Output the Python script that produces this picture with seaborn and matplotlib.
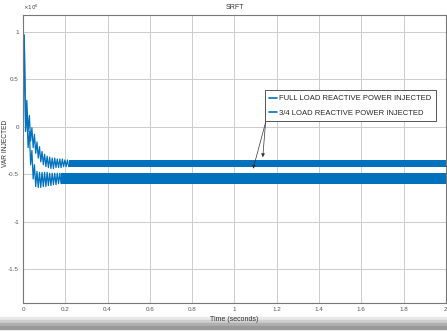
import numpy as np
import pandas as pd
import matplotlib
matplotlib.use("Agg")
import matplotlib.pyplot as plt
import seaborn as sns
from matplotlib.patches import Rectangle

# transient part (values in units of 1e6 VAR)
t_full = [0.0, 0.006, 0.012, 0.018, 0.024, 0.030, 0.036, 0.042, 0.048, 0.054,
          0.060, 0.066, 0.072, 0.078, 0.084, 0.090, 0.096, 0.102, 0.108, 0.114,
          0.120, 0.126, 0.132, 0.138, 0.144, 0.150, 0.156, 0.162, 0.168, 0.174,
          0.180, 0.186, 0.192, 0.198, 0.204, 0.210, 0.216]
v_full = [0.0, 0.97, 0.05, 0.28, -0.05, 0.12, -0.15, -0.01, -0.22, -0.08,
          -0.28, -0.16, -0.33, -0.21, -0.37, -0.26, -0.40, -0.29, -0.42, -0.31,
          -0.43, -0.32, -0.44, -0.33, -0.44, -0.33, -0.43, -0.34, -0.43, -0.34,
          -0.43, -0.34, -0.42, -0.35, -0.42, -0.35, -0.42]

t_34 = [0.0, 0.006, 0.012, 0.018, 0.024, 0.030, 0.036, 0.042, 0.048, 0.054,
        0.060, 0.066, 0.072, 0.078, 0.084, 0.090, 0.096, 0.102, 0.108, 0.114,
        0.120, 0.126, 0.132, 0.138, 0.144, 0.150, 0.156, 0.162, 0.168, 0.174, 0.180]
v_34 = [0.0, 0.90, -0.05, 0.15, -0.22, -0.05, -0.40, -0.25, -0.55, -0.40,
        -0.63, -0.47, -0.64, -0.48, -0.64, -0.48, -0.63, -0.48, -0.63, -0.48,
        -0.62, -0.49, -0.62, -0.49, -0.61, -0.49, -0.61, -0.49, -0.60, -0.49, -0.60]

# steady-state ripple band (start, end, low, high)
band_full_t = [0.216, 2.0]
band_full_lo = [-0.42, -0.42]
band_full_hi = [-0.35, -0.35]
band_34_t = [0.18, 2.0]
band_34_lo = [-0.60, -0.60]
band_34_hi = [-0.49, -0.49]

labels = ["FULL LOAD REACTIVE POWER INJECTED", "3/4 LOAD REACTIVE POWER INJECTED"]
xticks = [0, 0.2, 0.4, 0.6, 0.8, 1, 1.2, 1.4, 1.6, 1.8, 2]
yticks = [-1.5, -1, -0.5, 0, 0.5, 1]

blue = "#0072BD"

sns.set_style("whitegrid")
plt.rcParams['font.family'] = ['Liberation Sans', 'DejaVu Sans']

fig = plt.figure(figsize=(4.47, 3.32), dpi=100)
ax = fig.add_axes([0.0515, 0.087, 0.946, 0.868])

df = pd.concat([
    pd.DataFrame({"t": t_full, "v": v_full, "s": labels[0]}),
    pd.DataFrame({"t": t_34, "v": v_34, "s": labels[1]}),
])
sns.lineplot(data=df, x="t", y="v", hue="s", palette=[blue, blue],
             linewidth=0.9, ax=ax, legend=False, sort=False)
ax.fill_between(band_full_t, band_full_lo, band_full_hi, color=blue, lw=0)
ax.fill_between(band_34_t, band_34_lo, band_34_hi, color=blue, lw=0)

ax.set_xlim(0, 2)
ax.set_ylim(-1.86, 1.18)
ax.set_xticks(xticks)
ax.set_xticklabels([f"{x:g}" for x in xticks])
ax.set_yticks(yticks)
ax.set_yticklabels([f"{y:g}" for y in yticks])
ax.tick_params(labelsize=4.5, colors="#555555", length=2, direction="in", pad=3)
ax.grid(True, color="#cccccc", lw=0.7)
for sp in ax.spines.values():
    sp.set_color("#777777")
    sp.set_linewidth(0.8)

ax.set_title("SRFT", fontsize=5, color="#333333", pad=4)
ax.set_xlabel("Time (seconds)", fontsize=5, color="#333333", labelpad=3)
ax.set_ylabel("VAR INJECTED", fontsize=4.8, color="#333333")
ax.yaxis.set_label_coords(-0.034, 0.555)
ax.text(0.0, 1.01, r"$\times10^6$", transform=ax.transAxes, fontsize=4,
        color="#444444", va="bottom", ha="left")

# legend box with arrows
h1, = ax.plot([], [], color=blue, lw=1.2)
h2, = ax.plot([], [], color=blue, lw=1.2)
leg = ax.legend([h1, h2], labels, loc="upper left", bbox_to_anchor=(0.572, 0.738),
                fontsize=5.5, frameon=True, fancybox=False, handlelength=1.0,
                handletextpad=0.3, borderpad=0.6, labelspacing=0.9,
                borderaxespad=0)
leg.get_frame().set_edgecolor("#555555")
leg.get_frame().set_linewidth(0.7)
leg.get_frame().set_alpha(1)
ax.annotate("", xy=(1.133, -0.35), xytext=(1.156, 0.30),
            arrowprops=dict(arrowstyle="-|>", color="#333333", lw=0.5, mutation_scale=5))
ax.annotate("", xy=(1.085, -0.47), xytext=(1.161, 0.16),
            arrowprops=dict(arrowstyle="-|>", color="#333333", lw=0.5, mutation_scale=5))

# shadow at the bottom of the picture
for i, c in enumerate(["#e8e8e8", "#cfcfcf", "#b0b0b0", "#999999"]):
    fig.patches.append(Rectangle((0, 0.035 - i * 0.009), 1, 0.009, transform=fig.transFigure,
                                 color=c, zorder=-1))

fig.savefig("out.png", dpi=100)
